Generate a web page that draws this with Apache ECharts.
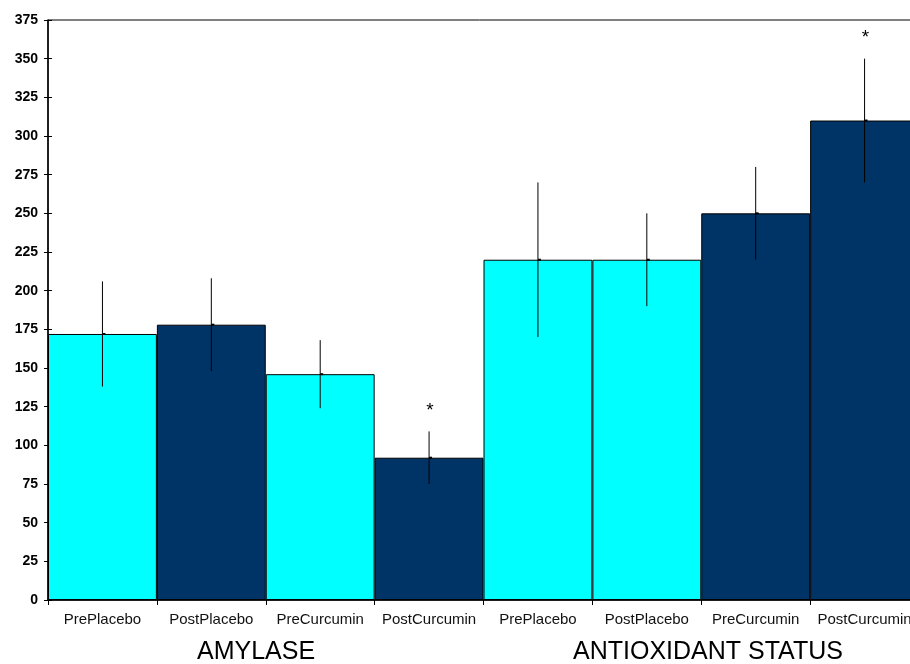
<!DOCTYPE html>
<html><head><meta charset="utf-8">
<script src="https://cdn.jsdelivr.net/npm/echarts@6/dist/echarts.min.js"></script>
<style>html,body{margin:0;padding:0;background:#fff;overflow:hidden}#c{width:910px;height:664px}</style>
</head><body><div id="c"></div>
<script>
const categories = ['PrePlacebo','PostPlacebo','PreCurcumin','PostCurcumin','PrePlacebo','PostPlacebo','PreCurcumin','PostCurcumin'];
const values = [172, 178, 146, 92, 220, 220, 250, 310];
const errors = [34, 30, 22, 17, 50, 30, 30, 40];
const stars = ['', '', '', '*', '', '', '', '*'];
const groups = ['AMYLASE', 'ANTIOXIDANT STATUS'];
const yTicks = [0, 25, 50, 75, 100, 125, 150, 175, 200, 225, 250, 275, 300, 325, 350, 375];

const cyan = '#00FFFF', navy = '#003366';
const barColors = [cyan, navy, cyan, navy, cyan, cyan, navy, navy];
const chart = echarts.init(document.getElementById('c'));
const errData = values.map((v, i) => [i, v - errors[i], v + errors[i], v, stars[i]]);

chart.setOption({
  animation: false,
  grid: {left: 48, top: 20, width: 871, height: 580, show: true, borderColor: '#000', borderWidth: 1,
         containLabel: false, outerBoundsMode: 'none'},
  xAxis: [{
    type: 'category', data: categories,
    axisLine: {lineStyle: {color: '#000', width: 1.5}},
    axisTick: {show: true, length: 5, lineStyle: {color: '#000'}},
    axisLabel: {color: '#111', fontFamily: 'Liberation Sans, Arial', fontSize: 15, margin: 12, interval: 0, hideOverlap: false}
  }],
  yAxis: [{
    type: 'value', min: 0, max: 375, interval: 25,
    axisLine: {show: true, lineStyle: {color: '#000', width: 1.5}},
    axisTick: {show: true, length: 4, lineStyle: {color: '#000'}},
    splitLine: {show: false},
    axisLabel: {color: '#000', fontWeight: 'bold', fontFamily: 'Liberation Sans, Arial', fontSize: 14, margin: 10,
      formatter: v => yTicks.includes(v) ? String(v) : ''}
  }, {
    type: 'value', min: 0, max: 375, interval: 25, position: 'left',
    axisLine: {show: false},
    axisTick: {show: true, inside: true, length: 4, lineStyle: {color: '#000'}},
    axisLabel: {show: false}, splitLine: {show: false}
  }],
  series: [{
    type: 'bar', data: values.map((v, i) => ({value: v, itemStyle: {color: barColors[i]}})),
    barWidth: '100%', barGap: '0%', barCategoryGap: '0%',
    itemStyle: {borderColor: '#000', borderWidth: 1}
  }, {
    type: 'custom', data: errData,
    renderItem: function (params, api) {
      const x = api.value(0);
      const lo = api.coord([x, api.value(1)]);
      const hi = api.coord([x, api.value(2)]);
      const mid = api.coord([x, api.value(3)]);
      const children = [
        {type: 'line', shape: {x1: hi[0], y1: hi[1], x2: lo[0], y2: lo[1]}, style: {stroke: '#000', lineWidth: 1}},
        {type: 'rect', shape: {x: mid[0], y: mid[1] - 1, width: 3, height: 2}, style: {fill: '#000'}}
      ];
      const s = api.value(4);
      if (s) children.push({type: 'text', x: hi[0] + 1, y: hi[1] - 21,
        style: {text: s, fill: '#000', font: '19px Liberation Sans, Arial', align: 'center', verticalAlign: 'middle'}});
      return {type: 'group', children};
    },
    z: 5
  }],
  graphic: [
    {type: 'text', left: 197, top: 640, style: {text: groups[0], fill: '#000', font: '25px Liberation Sans, Arial'}},
    {type: 'text', left: 573, top: 640, style: {text: groups[1], fill: '#000', font: '25px Liberation Sans, Arial'}}
  ]
});
</script></body></html>
